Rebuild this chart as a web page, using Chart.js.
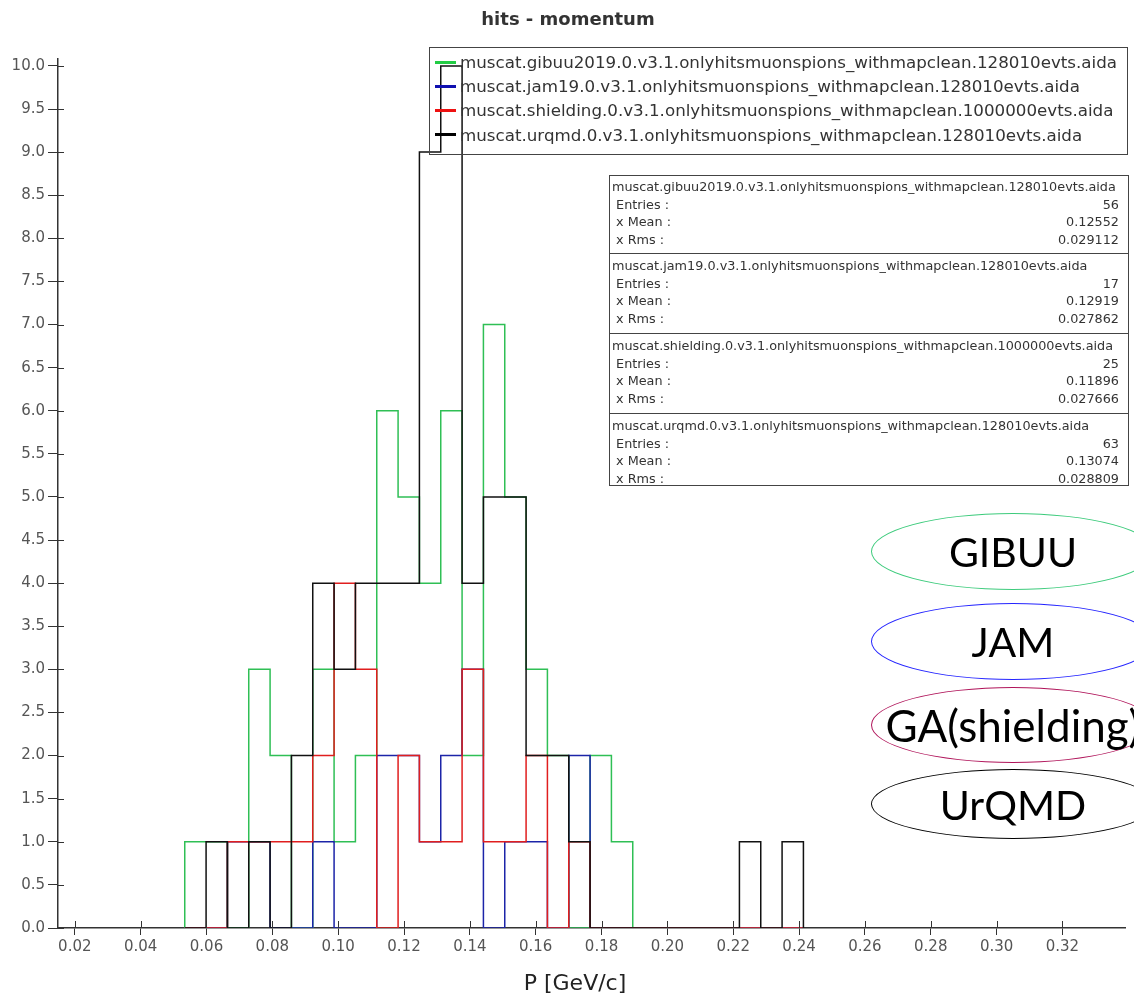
<!DOCTYPE html>
<html>
<head>
<meta charset="utf-8">
<script src="https://cdn.jsdelivr.net/npm/chart.js@4.4.1/dist/chart.umd.min.js"></script>
<style>
  body { margin: 0; background: #fff; overflow: hidden; }
  #wrap { position: relative; width: 1134px; height: 995px; overflow: hidden; }
  #chart { position: absolute; left: 0; top: 0; }
  .abs { position: absolute; white-space: nowrap; }
  #title { left: 0; width: 1136px; top: 8px; text-align: center; font: bold 18px "DejaVu Sans"; color: #333; }
  #xtitle { left: 0; width: 1150px; top: 970px; text-align: center; font: 22px "DejaVu Sans"; color: #222; }
  #legend { left: 429px; top: 47px; width: 697px; height: 106px; border: 1px solid #444; }
  .leg { position: absolute; left: 30px; font: 16.7px "DejaVu Sans"; color: #333; line-height: 20px; }
  .mark { position: absolute; left: 5px; width: 21px; height: 3px; }
  #stats { left: 609px; top: 175px; width: 518px; height: 309px; border: 1px solid #444; overflow: hidden; }
  .sep { position: absolute; left: 0; width: 100%; height: 0; border-top: 1px solid #444; }
  .row { position: absolute; left: 2px; right: 9px; font: 12.8px "DejaVu Sans"; color: #333; line-height: 16px; }
  .row .v { position: absolute; right: 0; top: 0; }
  .ell { position: absolute; left: 871px; width: 284px; border-radius: 50%; border: 1.2px solid; box-sizing: border-box;
         display: flex; align-items: center; justify-content: center; font: 41px Lato; color: #000; }
</style>
</head>
<body>
<div id="wrap">
  <canvas id="chart" width="1134" height="995"></canvas>
  <div id="title" class="abs">hits - momentum</div>
  <div id="xtitle" class="abs">P [GeV/c]</div>
  <div id="legend" class="abs"></div>
  <div id="stats" class="abs"></div>
  <div class="ell" style="top:513px;height:77px;border-color:#3dcb7c;">GIBUU</div>
  <div class="ell" style="top:603px;height:77px;border-color:#2424ff;">JAM</div>
  <div class="ell" style="top:687px;height:76px;border-color:#b0145a;font-size:44px;">GA(shielding)</div>
  <div class="ell" style="top:769px;height:70px;border-color:#000;">UrQMD</div>
</div>
<script>
// histogram binning (same for all four files)
const binLow = 0.0534;
const binWidth = 0.00648;

// counts per bin
const gibuuCounts = [1, 1, 0, 3, 2, 0, 3, 1, 2, 6, 5, 4, 6, 2, 7, 5, 3, 2, 0, 2, 1, 0, 0, 0, 0, 0, 0, 0, 0];
const jamCounts = [0, 0, 1, 1, 0, 0, 1, 0, 0, 2, 2, 1, 2, 3, 0, 1, 1, 0, 2, 0, 0, 0, 0, 0, 0, 0, 0, 0, 0];
const shieldingCounts = [0, 0, 1, 1, 1, 1, 2, 4, 3, 0, 2, 1, 1, 3, 1, 1, 2, 0, 1, 0, 0, 0, 0, 0, 0, 0, 0, 0, 0];
const urqmdCounts = [0, 1, 0, 1, 0, 2, 4, 3, 4, 4, 4, 9, 10, 4, 5, 5, 2, 2, 1, 0, 0, 0, 0, 0, 0, 0, 1, 0, 1];

const fileNames = [
  "muscat.gibuu2019.0.v3.1.onlyhitsmuonspions_withmapclean.128010evts.aida",
  "muscat.jam19.0.v3.1.onlyhitsmuonspions_withmapclean.128010evts.aida",
  "muscat.shielding.0.v3.1.onlyhitsmuonspions_withmapclean.1000000evts.aida",
  "muscat.urqmd.0.v3.1.onlyhitsmuonspions_withmapclean.128010evts.aida"
];
const lineColors = ["#2fbf55", "#1c24a8", "#e01e1e", "#111111"];
const markColors = ["#22cc44", "#1010b0", "#ee1111", "#000000"];
const entries = ["56", "17", "25", "63"];
const means = ["0.12552", "0.12919", "0.11896", "0.13074"];
const rmss = ["0.029112", "0.027862", "0.027666", "0.028809"];

const xTickMin = 0.0149, xTickMax = 0.339;
const yMax = 10.08;

// histogram -> step outline points
function toSteps(counts) {
  const pts = [{ x: binLow, y: 0 }];
  counts.forEach((c, i) => pts.push({ x: binLow + i * binWidth, y: c }));
  pts.push({ x: binLow + counts.length * binWidth, y: 0 });
  return pts;
}

const allCounts = [gibuuCounts, jamCounts, shieldingCounts, urqmdCounts];

// legend box
const legend = document.getElementById("legend");
fileNames.forEach((n, i) => {
  const cy = 14 + i * 24.2;
  legend.insertAdjacentHTML("beforeend",
    `<div class="mark" style="top:${cy - 1.5}px;background:${markColors[i]}"></div>` +
    `<div class="leg" style="top:${cy - 10}px">${n}</div>`);
});

// stats box
const stats = document.getElementById("stats");
const secTop = [-2, 77, 157, 237];
fileNames.forEach((n, i) => {
  const t = secTop[i];
  if (i > 0) stats.insertAdjacentHTML("beforeend", `<div class="sep" style="top:${t}px"></div>`);
  const rows = [[n, ""], ["&nbsp;Entries :", entries[i]], ["&nbsp;x Mean :", means[i]], ["&nbsp;x Rms :", rmss[i]]];
  rows.forEach((r, j) => {
    const cy = t + 13 + 17.6 * j;
    stats.insertAdjacentHTML("beforeend",
      `<div class="row" style="top:${cy - 8}px">${r[0]}<span class="v">${r[1]}</span></div>`);
  });
});

// ticks crossing the axes (inner half)
const innerTicks = {
  id: "innerTicks",
  afterDraw(chart) {
    const { ctx, chartArea, scales } = chart;
    ctx.save();
    ctx.strokeStyle = "#333";
    ctx.lineWidth = 1;
    ctx.beginPath();
    scales.y.ticks.forEach(t => {
      const py = Math.round(scales.y.getPixelForValue(t.value)) + 0.5;
      ctx.moveTo(chartArea.left, py);
      ctx.lineTo(chartArea.left + 6, py);
    });
    scales.x.ticks.forEach(t => {
      const px = Math.round(scales.x.getPixelForValue(t.value)) + 0.5;
      ctx.moveTo(px, chartArea.bottom);
      ctx.lineTo(px, chartArea.bottom - 7);
    });
    ctx.stroke();
    ctx.restore();
  }
};

const tickFont = { family: "DejaVu Sans", size: 15 };

new Chart(document.getElementById("chart"), {
  type: "line",
  data: {
    datasets: allCounts.map((c, i) => ({
      label: fileNames[i],
      data: toSteps(c),
      borderColor: lineColors[i],
      borderWidth: 1.5,
      pointRadius: 0,
      fill: false,
      stepped: "before",
      order: 4 - i
    }))
  },
  options: {
    responsive: false,
    animation: false,
    layout: { padding: { top: 59, right: 9, left: 0, bottom: 0 } },
    plugins: { legend: { display: false }, tooltip: { enabled: false }, title: { display: false } },
    scales: {
      x: {
        type: "linear",
        min: xTickMin,
        max: xTickMax,
        afterFit: s => { s.height = 67; },
        border: { color: "#333", width: 1.5 },
        grid: { drawOnChartArea: false, tickLength: 7, color: "#333" },
        ticks: {
          stepSize: 0.02, includeBounds: false, autoSkip: false, maxTicksLimit: 100,
          maxRotation: 0, padding: 3, color: "#555", font: tickFont,
          callback: v => v.toFixed(2)
        }
      },
      y: {
        min: 0,
        max: yMax,
        afterFit: s => { s.width = 58; },
        border: { color: "#333", width: 1.5 },
        grid: { drawOnChartArea: false, tickLength: 10, color: "#333" },
        ticks: {
          stepSize: 0.5, includeBounds: false, autoSkip: false, maxTicksLimit: 100,
          padding: 3, color: "#555", font: tickFont,
          callback: v => v.toFixed(1)
        }
      }
    }
  },
  plugins: [innerTicks]
});
</script>
</body>
</html>
